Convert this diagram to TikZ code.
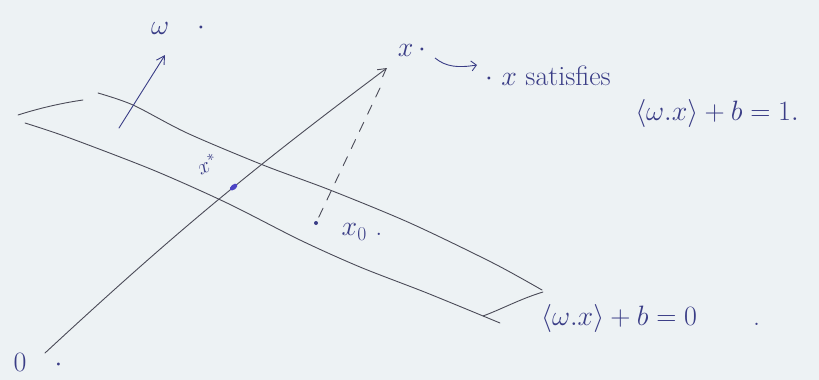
\RequirePackage{fix-cm}
\documentclass[tikz,border=0pt]{standalone}
\usepackage{amsmath,amssymb}
\usepackage{tikz}
\usetikzlibrary{arrows.meta,positioning,calc,shapes.geometric}
\definecolor{InkBlue}{HTML}{3A3D86}
\definecolor{Pencil}{HTML}{4B4B58}
\definecolor{DotBlue}{HTML}{4C44C4}
\definecolor{Paper}{HTML}{EDF2F4}
\newcommand{\ipw}[1]{\langle\omega.x\rangle+b=#1}

\begin{document}
\begin{tikzpicture}[x=1pt,y=-1pt,font=\fontsize{28}{32}\selectfont,
ink/.style={text=InkBlue,inner sep=1pt},
edge/.style={draw=Pencil,line width=0.9pt,line cap=round},
arr/.style={edge,-{Straight Barb[length=8pt,width=9pt]}},
dotpt/.style={circle,fill=#1,inner sep=0pt,minimum size=4pt},
dotpt/.default=InkBlue]
\fill[Paper] (0,0) rectangle (819,380);
\useasboundingbox (0,0) rectangle (819,380);
% the slab between the two planes
\draw[edge] (18,115) .. controls (40,108) and (62,103) .. (83,100);
\draw[edge] plot[smooth] coordinates {(98,93) (133,105) (187,133) (263,165) (330,190) (410,223) (493,263) (542,290)};
\draw[edge] plot[smooth] coordinates {(25,123) (67,137) (153,170) (227,203) (300,240) (360,267) (427,293) (500,323)};
\draw[edge] (543,292) .. controls (520,299) and (502,309) .. (483,316);
% normal vector w
\coordinate (wbase) at (119,128);
\coordinate (wtip) at (165,55);
\draw[arr,draw=InkBlue] (wbase) -- (wtip);
\node[ink] (wlab) at (178,28) {$\omega\quad\cdot$};
% the ray from the origin to x
\coordinate (orig) at (45,353);
\coordinate (tip) at (387,68);
\draw[arr] (orig) to[bend left=3] node[pos=0.57,sloped,ellipse,fill=DotBlue,inner sep=0pt,minimum width=9pt,minimum height=5pt] (xstar) {} (tip);
\node[ink] (olab) at (38,362) {$0\quad\cdot$};
\node[ink,rotate=25,font=\fontsize{22}{26}\selectfont] (xslab) at (207,164) {$x^*$};
\node[ink] (xlab) at (412,50) {$x\,\cdot$};
% projection down to x0
\coordinate (dstart) at (380,88);
\node[dotpt] (x0) at (316,223) {};
\draw[edge,dash pattern=on 10pt off 9pt] (dstart) -- (x0);
\node[ink] (x0lab) at (362,232) {$x_0$\ .};
% the note on x
\coordinate (sqa) at (435,58);
\coordinate (sqb) at (477,65);
\draw[InkBlue,line width=0.9pt,-{Straight Barb[length=5pt,width=10pt]}] (sqa) .. controls (446,67) and (458,68) .. (sqb);
\node[ink,anchor=west] (sat) at (484,76) {$\cdot$ $x$ satisfies};
\node[ink] (eq1) at (717,113) {$\ipw{1}.$};
\node[ink,anchor=west] (eq0) at (540,318) {$\ipw{0}$\quad\quad.};
\end{tikzpicture}
\end{document}
